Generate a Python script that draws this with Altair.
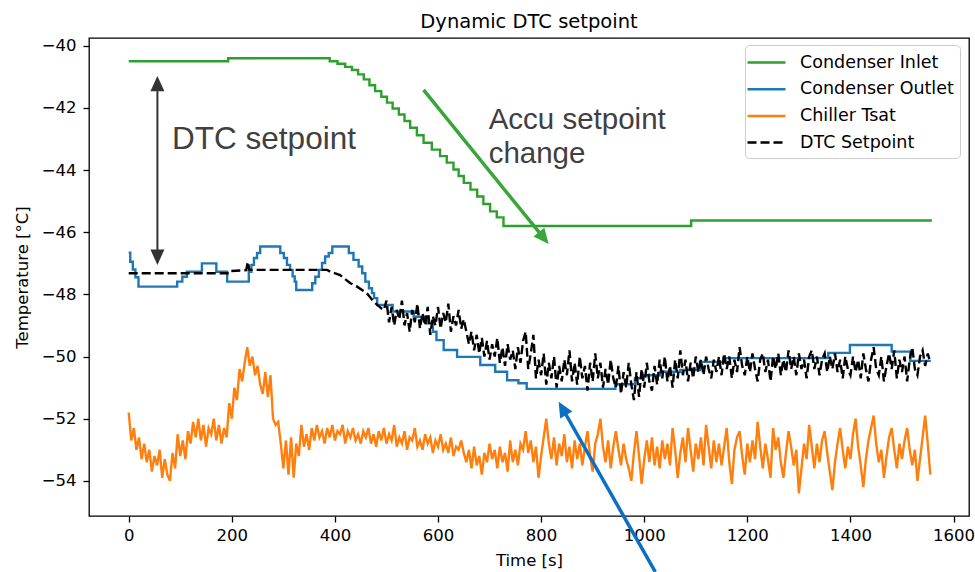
import altair as alt
import pandas as pd
import numpy as np

SERIES = ["Condenser Inlet", "Condenser Outlet", "Chiller Tsat", "DTC Setpoint"]
COLORS = ["#2ca02c", "#1f77b4", "#ff7f0e", "#000000"]
DASHES = [[1, 0], [1, 0], [1, 0], [9, 4]]

# Condenser Inlet (step changes)
INLET_T = [0, 193, 390, 405, 420, 433, 445, 456, 467, 478, 490, 501, 512, 524, 535, 546,
           559, 572, 588, 604, 617, 630, 640, 650, 663, 676, 688, 701, 714, 727, 1091, 1558]
INLET_V = [-40.50, -40.40, -40.50, -40.58, -40.68, -40.78, -40.92, -41.08, -41.27, -41.46,
           -41.64, -41.83, -42.02, -42.21, -42.42, -42.64, -42.88, -43.12, -43.34, -43.55,
           -43.76, -43.98, -44.19, -44.41, -44.63, -44.85, -45.09, -45.33, -45.52, -45.80,
           -45.62, -45.62]

# Condenser Outlet (step changes)
OUTLET_T = [0, 3, 8, 13, 19, 94, 104, 113, 142, 170, 191, 233, 238, 243, 249, 255, 294, 301,
            307, 313, 318, 322, 325, 356, 362, 369, 375, 381, 388, 395, 427, 436, 446, 453,
            459, 466, 472, 476, 482, 512, 553, 579, 590, 597, 611, 637, 682, 711, 734, 756,
            772, 944, 982, 999, 1031, 1070, 1108, 1154, 1357, 1399, 1480, 1516, 1556]
OUTLET_V = [-46.66, -46.95, -47.20, -47.45, -47.75, -47.59, -47.43, -47.27, -47.00, -47.27,
            -47.59, -47.27, -47.05, -46.83, -46.67, -46.46, -46.67, -46.83, -47.05, -47.21,
            -47.42, -47.59, -47.86, -47.64, -47.43, -47.21, -46.99, -46.78, -46.67, -46.46,
            -46.67, -46.89, -47.10, -47.32, -47.59, -47.80, -47.96, -48.12, -48.34, -48.55,
            -48.72, -48.93, -49.20, -49.47, -49.79, -50.01, -50.27, -50.49, -50.76, -50.86,
            -51.04, -50.89, -50.70, -50.60, -50.49, -50.43, -50.17, -50.05, -49.88, -49.63,
            -49.84, -50.14, -50.14]

# Chiller Tsat, one reading about every 5 s from 0 to 1555 s
TSAT_V = [
    -51.8, -52.7, -52.3, -53.0, -52.6, -53.3, -52.8, -53.4, -53.0, -53.7, -53.2, -53.5,
    -53.0, -53.9, -53.3, -53.8, -54.0,
    -53.1, -53.6, -52.5, -53.2, -52.7, -53.3, -52.4,
    -52.8, -52.1, -52.6, -52.0, -52.7, -52.2, -52.9, -52.3, -52.5, -52.0, -52.7, -52.2,
    -52.8, -52.3, -52.6,
    -51.5, -52.0, -51.0, -51.4, -50.4, -50.8, -50.2, -49.7, -50.3, -50.0, -50.6, -50.3,
    -50.9, -51.2, -50.5, -51.3, -50.6, -52.0, -52.2, -52.1, -52.8, -53.6, -52.7, -53.8,
    -52.6, -53.9, -52.8, -53.2, -52.2, -52.9, -52.5, -53.0,
    -52.3, -52.7, -52.2, -52.6, -52.4, -52.8, -52.3, -52.6, -52.2, -52.7, -52.4, -52.5,
    -52.2, -52.8, -52.4, -52.6, -52.3, -52.7, -52.5, -52.8, -52.4, -52.6, -52.3, -52.8,
    -52.5, -52.9, -52.4, -52.7, -52.3, -52.8, -52.5, -52.7, -52.2, -52.9, -52.6, -52.8,
    -52.4, -53.0, -52.6, -52.7, -52.3, -52.9, -52.7, -53.0, -52.5, -52.8, -52.6, -53.1,
    -52.7, -52.9, -52.5, -53.0, -52.8, -53.1, -52.6, -53.2, -52.9, -53.0, -52.7, -53.1,
    -53.4, -53.0, -53.6, -52.9, -53.5, -53.2, -53.8, -53.1, -53.4, -52.8, -53.3, -53.0,
    -53.6, -52.9, -53.4, -53.1, -53.7, -52.7, -53.4, -53.0, -53.5, -52.8,
    -53.0, -52.4, -53.1, -52.7, -53.4, -52.9, -53.9, -53.2, -52.6, -52.0, -52.8, -53.3,
    -52.6, -53.5, -52.8, -53.2, -52.5, -53.4, -52.9, -53.6, -52.7, -53.3, -52.8, -53.5,
    -52.9, -52.4, -53.2, -53.7, -52.8, -52.5, -52.0, -52.9, -53.4, -52.7, -53.6, -52.9,
    -52.4, -53.0, -53.5, -52.8, -53.3, -53.6, -54.0, -53.1, -52.4, -53.2, -54.1, -53.3,
    -52.7, -53.4, -52.6, -53.5, -52.9, -53.6, -52.7, -53.3, -52.8, -53.5, -52.3, -53.0,
    -53.9, -53.1, -52.6, -53.4, -52.3, -53.0, -53.7, -52.8, -53.3, -52.6, -53.5, -52.2,
    -52.9, -53.6, -52.7, -53.4, -52.8, -53.5, -52.9, -52.3, -53.4, -54.1, -53.0, -52.6,
    -52.4, -53.2, -53.8, -52.8, -53.4, -52.7, -53.3, -52.1, -52.9, -53.6, -52.8, -53.3,
    -53.9, -52.3, -53.0, -52.6, -53.4, -53.9, -53.1, -52.4, -52.9, -53.5, -53.0, -54.4,
    -53.6, -52.8, -53.3, -52.2, -52.9, -53.6, -52.8, -53.4, -52.7, -52.4, -53.1, -53.7,
    -54.3, -53.4, -52.8, -52.3, -53.0, -53.6, -52.9, -53.3, -52.5, -52.0, -52.9, -53.5,
    -54.2, -53.3, -52.7, -52.3, -51.9, -52.8, -53.4, -53.0, -53.9, -53.2, -52.6, -52.3,
    -53.0, -53.6, -52.8, -53.3, -52.7, -52.3, -53.0, -53.5, -53.0, -54.0, -53.3, -52.6,
    -51.9, -52.8, -53.8]

# DTC Setpoint: calm start, then noisy readings about every 5 s from 495 s
DTC_HEAD_T = [0, 192, 194, 228, 231, 234, 385, 391, 410, 430, 443, 462, 475, 490]
DTC_HEAD_V = [-47.32, -47.32, -47.25, -47.22, -46.95, -47.21, -47.21, -47.27, -47.38,
              -47.64, -47.75, -47.96, -48.23, -48.45]
DTC_NOISE_V = [
    -48.5, -48.2, -48.9, -48.4, -49.0, -48.5, -48.8, -48.2, -49.0, -48.6, -49.2, -48.5,
    -48.9, -48.3, -49.1, -48.6, -49.0, -48.4, -49.3, -48.7, -49.0, -48.4, -49.1, -48.6,
    -48.9, -48.3, -49.2, -48.7, -49.0, -48.5, -49.1, -48.8, -49.2,
    -49.6, -49.2, -49.8, -49.3, -49.9, -49.4, -50.0, -49.5, -50.1, -49.6, -50.0, -49.4,
    -50.2, -49.7, -50.3, -49.6, -50.1, -49.8, -50.4, -49.7, -50.2,
    -49.5, -49.2, -50.4, -49.9, -49.3, -50.7, -50.1, -50.6, -49.9, -50.9, -50.2, -50.7,
    -50.0, -51.0, -50.3, -50.8, -50.1, -50.6, -49.8, -50.8, -50.2, -50.9, -50.0, -50.7,
    -50.3, -51.1, -50.2, -50.8, -49.9, -50.7, -50.2, -51.0, -50.4, -50.9, -50.1, -50.7,
    -51.0, -50.3, -51.2, -50.5, -51.0, -50.2, -50.9, -51.4, -50.5, -51.3, -50.4, -51.0,
    -50.2, -50.8, -51.1, -50.3, -50.9, -50.1, -50.7, -50.0, -50.8, -50.3, -51.0, -50.1,
    -50.7, -49.8, -50.6, -50.1, -50.8, -50.2, -50.7, -50.0,
    -50.5, -50.1, -50.6, -50.0, -50.4, -50.7, -50.1, -50.5, -50.0, -50.6, -49.9, -50.4,
    -50.0, -50.7, -50.1, -50.5, -49.7, -50.3, -50.6, -50.0, -50.5, -49.9, -50.4, -50.8,
    -50.1, -49.9, -50.5, -50.1, -50.8, -50.0, -50.4, -49.9, -50.6, -50.1, -50.5, -49.8,
    -50.4, -50.0, -50.6, -49.9, -50.4, -50.1, -50.7, -50.0, -49.8, -50.4, -50.0, -50.6,
    -50.1, -49.9, -50.5, -50.0, -50.4, -49.9, -50.5, -50.1, -50.7, -50.0, -50.4, -50.6,
    -50.0, -50.5, -50.1, -50.7, -49.9, -50.4, -50.8, -50.1, -49.7, -50.4, -50.6, -50.0,
    -50.8, -50.3, -49.9, -50.4, -49.8, -50.7, -50.1, -50.5, -50.0, -50.8, -50.1, -49.7,
    -50.4, -50.6, -50.0, -49.8, -50.3, -49.9, -50.2]

# Annotations (data units)
ARROW_X1 = [55.7, 572.0, 1021.5]
ARROW_Y1 = [-41.46, -41.42, -56.93]
ARROW_X2 = [55.7, 797.5, 847.3]
ARROW_Y2 = [-46.57, -46.03, -51.84]
ARROW_COLOR = ["#333333", "#3aa63a", "#0b6fc2"]
ARROW_WIDTH = [2.0, 3.5, 3.5]

HEAD_X = [55.7, 55.7, 814.6, 834.0]
HEAD_Y = [-40.97, -47.05, -46.38, -51.45]
HEAD_ANGLE = [0, 180, 140.9, 330.4]
HEAD_COLOR = ["#333333", "#333333", "#3aa63a", "#0b6fc2"]

TEXT_X = [84.2, 698.2, 698.2]
TEXT_Y = [-43.31, -42.69, -43.76]
TEXT_S = ["DTC setpoint", "Accu setpoint", "change"]
TEXT_SIZE = [31.5, 29.5, 29.5]

# ---------- data frames ----------
inlet = pd.DataFrame({"t": INLET_T, "v": INLET_V, "series": SERIES[0]})
outlet = pd.DataFrame({"t": OUTLET_T, "v": OUTLET_V, "series": SERIES[1]})
tsat = pd.DataFrame({"t": np.linspace(0, 1555, len(TSAT_V)), "v": TSAT_V, "series": SERIES[2]})
dtc = pd.DataFrame({
    "t": list(DTC_HEAD_T) + list(np.linspace(495, 1555, len(DTC_NOISE_V))),
    "v": DTC_HEAD_V + DTC_NOISE_V,
    "series": SERIES[3],
})

arrows = pd.DataFrame({"x1": ARROW_X1, "y1": ARROW_Y1, "x2": ARROW_X2, "y2": ARROW_Y2,
                       "c": ARROW_COLOR, "w": ARROW_WIDTH})
heads = pd.DataFrame({"x": HEAD_X, "y": HEAD_Y, "a": HEAD_ANGLE, "c": HEAD_COLOR})
texts = pd.DataFrame({"x": TEXT_X, "y": TEXT_Y, "s": TEXT_S, "fs": TEXT_SIZE})

xscale = alt.Scale(domain=[-77, 1630], nice=False, zero=False)
yscale = alt.Scale(domain=[-55.13, -39.75], nice=False, zero=False)
xaxis = alt.Axis(values=list(range(0, 1601, 200)), title="Time [s]", format="d")
yaxis = alt.Axis(values=list(range(-54, -39, 2)), title="Temperature [°C]", format="d")

legend = alt.Legend(
    title=None, orient="none", legendX=656, legendY=7,
    symbolType="M-1.5,0H2.3", symbolSize=400, symbolStrokeWidth=2.5,
    labelFont="DejaVu Sans", labelFontSize=17.5, labelColor="black", labelOffset=26,
    rowPadding=6.7, padding=6, strokeColor="#cccccc", fillColor="white", cornerRadius=4,
)
color = alt.Color("series:N", scale=alt.Scale(domain=SERIES, range=COLORS), legend=legend)
dash = alt.StrokeDash("series:N", scale=alt.Scale(domain=SERIES, range=DASHES), legend=legend)


def line_layer(df, interp):
    return alt.Chart(df).mark_line(interpolate=interp, strokeWidth=2.4).encode(
        x=alt.X("t:Q", scale=xscale, axis=xaxis),
        y=alt.Y("v:Q", scale=yscale, axis=yaxis),
        color=color,
        strokeDash=dash,
    )


l_inlet = line_layer(inlet, "step-after")
l_outlet = line_layer(outlet, "step-after")
l_tsat = line_layer(tsat, "linear")
l_dtc = line_layer(dtc, "linear")

arrow_lines = alt.Chart(arrows).mark_rule(clip=False).encode(
    x=alt.X("x1:Q", scale=xscale), y=alt.Y("y1:Q", scale=yscale),
    x2="x2:Q", y2="y2:Q",
    color=alt.Color("c:N", scale=None, legend=None),
    strokeWidth=alt.StrokeWidth("w:Q", scale=None, legend=None),
)
arrow_heads = alt.Chart(heads).mark_point(
    shape="M0,0L-0.5,1.1L0.5,1.1Z", size=784, filled=True, opacity=1, clip=False
).encode(
    x=alt.X("x:Q", scale=xscale), y=alt.Y("y:Q", scale=yscale),
    angle=alt.Angle("a:Q", scale=None),
    color=alt.Color("c:N", scale=None, legend=None),
)
labels = alt.Chart(texts).mark_text(
    align="left", baseline="alphabetic", font="Liberation Sans", color="#404040"
).encode(
    x=alt.X("x:Q", scale=xscale), y=alt.Y("y:Q", scale=yscale), text="s:N",
    size=alt.Size("fs:Q", scale=None, legend=None),
)

chart = alt.layer(
    l_inlet, l_outlet, l_tsat, l_dtc, arrow_lines, arrow_heads, labels
).properties(
    width=880, height=478,
    title=alt.TitleParams("Dynamic DTC setpoint", font="DejaVu Sans", fontSize=19.5,
                          fontWeight="normal", color="black", anchor="middle",
                          baseline="alphabetic", offset=11, dy=21),
    autosize=alt.AutoSizeParams(type="none"),
    padding={"left": 89, "top": 38, "right": 6, "bottom": 56},
    background="white",
).configure_view(
    stroke="black", strokeWidth=1.3
).configure_axis(
    grid=False, domain=False, tickColor="black", tickSize=6, tickWidth=1.3,
    labelFont="DejaVu Sans", labelFontSize=16.5, labelColor="black",
    titleFont="DejaVu Sans", titleFontSize=16.5, titleFontWeight="normal", titleColor="black",
).configure_axisX(titlePadding=9, labelPadding=5).configure_axisY(titlePadding=11, labelPadding=7)

chart.save("out.html", embed_options={"renderer": "svg", "actions": False})
